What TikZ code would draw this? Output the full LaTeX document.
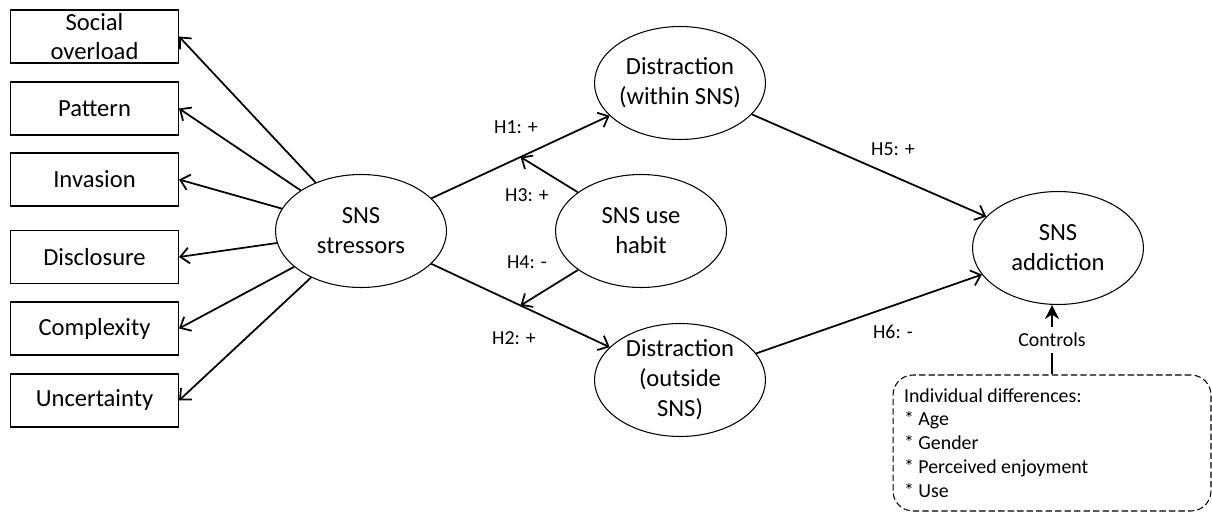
\documentclass[tikz,border=0pt]{standalone}
\usepackage{fontspec}
\setmainfont{Carlito}
\usetikzlibrary{shapes.geometric,arrows.meta}

\tikzset{
    construct/.style={draw,ellipse,line width=0.6pt,minimum width=3.42cm,minimum height=2.26cm,inner xsep=-2pt,inner ysep=0pt,align=center,font=\fontsize{14}{17}\selectfont},
    stressbox/.style={draw,rectangle,line width=0.6pt,minimum width=3.36cm,minimum height=1.06cm,inner xsep=0pt,inner ysep=-2pt,align=center,font=\fontsize{14}{17}\selectfont},
    conn/.style={line width=1pt,-{Straight Barb[length=5pt,width=9pt]}},
    hyp/.style={font=\fontsize{11.3}{13.6}\selectfont},
    ctrlbox/.style={draw,dashed,dash pattern=on 3.6pt off 1.8pt,line width=0.6pt,rounded corners=0.4cm,minimum width=6.36cm,minimum height=2.72cm,text width=5.92cm,inner xsep=0.22cm,align=flush left,font=\fontsize{11.3}{13.6}\selectfont},
    ctrlarr/.style={line width=1pt,-{Stealth[length=8pt,width=8pt]}}
}

\begin{document}
\begin{tikzpicture}[x=0.02cm,y=-0.02cm]
    \useasboundingbox (0,0) rectangle (1212,513);

    % constructs
    \node[construct] (stress) at (361,231) {SNS\\stressors};
    \node[construct] (within) at (680,83) {Distraction\\(within SNS)};
    \node[construct] (habit) at (641,231) {SNS use\\habit};
    \node[construct,inner ysep=-6pt] (outside) at (680,380) {Distraction\\(outside\\SNS)};
    \node[construct] (addict) at (1058,248) {SNS\\addiction};

    % stressor dimensions
    \foreach \nm/\txt/\yy in {social/{Social\\overload}/36.5,pattern/Pattern/108.5,invasion/Invasion/179.5,disclosure/Disclosure/257,complexity/Complexity/328.5,uncertainty/Uncertainty/400.5}{
        \node[stressbox] (\nm) at (94.5,\yy) {\txt};
        \draw[conn] (stress) -- (\nm.east);
    }

    % hypotheses
    \draw[conn] (stress) -- (within) coordinate[pos=0.5] (m1);
    \draw[conn] (stress) -- (outside) coordinate[pos=0.5] (m2);
    \draw[conn] (habit) -- (m1);
    \draw[conn] (habit) -- (m2);
    \draw[conn] (within) -- (addict);
    \draw[conn] (outside) -- (addict);

    \node[hyp] (h1) at (516,127) {H1: +};
    \node[hyp] (h2) at (514,338) {H2: +};
    \node[hyp] (h3) at (527,195) {H3: +};
    \node[hyp] (h4) at (527,262) {H4: -};
    \node[hyp] (h5) at (893,149) {H5: +};
    \node[hyp] (h6) at (893,332) {H6: -};

    % controls
    \node[ctrlbox] (ctrl) at (1052,443) {Individual differences:\\{*} Age\\{*} Gender\\{*} Perceived enjoyment\\{*} Use};
    \draw[ctrlarr] (ctrl.north) -- (ctrl.north |- addict.south) node[midway,fill=white,hyp] (ctl) {Controls};
\end{tikzpicture}
\end{document}
